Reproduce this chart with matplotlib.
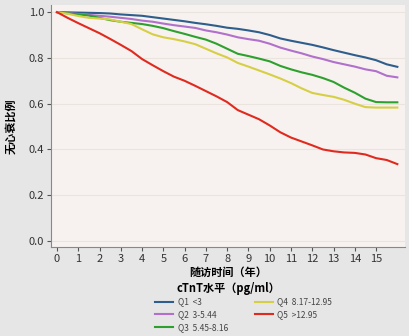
import matplotlib
matplotlib.use("Agg")
import matplotlib.pyplot as plt

plt.rcParams['font.family'] = ['Noto Sans CJK SC', 'DejaVu Sans']

# follow-up time (years)
years = [0, 0.5, 1, 1.5, 2, 2.5, 3, 3.5, 4, 4.5, 5, 5.5, 6, 6.5, 7, 7.5, 8,
         8.5, 9, 9.5, 10, 10.5, 11, 11.5, 12, 12.5, 13, 13.5, 14, 14.5, 15, 15.5, 16]

q1 = [1.0, 0.999, 0.998, 0.997, 0.996, 0.994, 0.99, 0.987, 0.984, 0.978, 0.972,
      0.966, 0.96, 0.953, 0.947, 0.94, 0.932, 0.927, 0.92, 0.912, 0.9, 0.885,
      0.875, 0.866, 0.857, 0.846, 0.834, 0.823, 0.812, 0.802, 0.79, 0.772, 0.761]
q2 = [1.0, 0.996, 0.992, 0.988, 0.984, 0.98, 0.975, 0.97, 0.963, 0.958, 0.95,
      0.943, 0.937, 0.931, 0.92, 0.912, 0.902, 0.89, 0.882, 0.875, 0.862, 0.845,
      0.832, 0.82, 0.806, 0.795, 0.782, 0.772, 0.762, 0.75, 0.742, 0.722, 0.715]
q3 = [1.0, 0.995, 0.99, 0.985, 0.975, 0.965, 0.958, 0.953, 0.948, 0.94, 0.93,
      0.917, 0.905, 0.892, 0.88, 0.862, 0.84, 0.818, 0.808, 0.797, 0.785, 0.765,
      0.75, 0.737, 0.726, 0.712, 0.695, 0.67, 0.648, 0.622, 0.607, 0.606, 0.606]
q4 = [1.0, 0.993, 0.983, 0.975, 0.972, 0.968, 0.958, 0.948, 0.925, 0.903, 0.89,
      0.882, 0.872, 0.86, 0.84, 0.82, 0.802, 0.778, 0.762, 0.745, 0.728, 0.71,
      0.69, 0.667, 0.647, 0.638, 0.63, 0.617, 0.6, 0.585, 0.583, 0.583, 0.583]
q5 = [1.0, 0.975, 0.952, 0.93, 0.908, 0.883, 0.857, 0.83, 0.795, 0.768, 0.742,
      0.718, 0.7, 0.678, 0.655, 0.632, 0.607, 0.572, 0.552, 0.532, 0.505, 0.475,
      0.452, 0.435, 0.418, 0.4, 0.392, 0.387, 0.385, 0.378, 0.362, 0.354, 0.336]

series = [q1, q2, q3, q4, q5]
labels = ['Q1  <3', 'Q2  3-5.44', 'Q3  5.45-8.16', 'Q4  8.17-12.95', 'Q5  >12.95']
colors = ['#2e5e8c', '#b070cc', '#2ea02e', '#d6cf45', '#e02a1f']
xticks = list(range(16))
yticks = [0.0, 0.2, 0.4, 0.6, 0.8, 1.0]

fig = plt.figure(figsize=(4.10, 3.36), dpi=100, facecolor='#e6e6e6')
ax = fig.add_axes([0.1244, 0.265, 0.8634, 0.72])
ax.set_facecolor('#f7f2ef')

for vals, lab, col in zip(series, labels, colors):
    ax.plot(years, vals, color=col, lw=1.5, label=lab)

ax.set_xlim(-0.28, 16.36)
ax.set_ylim(-0.026, 1.031)
ax.set_xticks(xticks)
ax.set_yticks(yticks)
ax.set_yticklabels([f'{v:.1f}' for v in yticks])
ax.tick_params(axis='both', labelsize=8, colors='#555555', length=3, width=0.8,
               labelcolor='#333333', pad=2)
for ax_y in yticks:
    ax.axhline(ax_y, color='#ebe3de', lw=0.8, zorder=0)
for s in ['top', 'right']:
    ax.spines[s].set_visible(False)
for s in ['left', 'bottom']:
    ax.spines[s].set_color('#888888')

ax.set_ylabel('无心衰比例', fontsize=8, fontweight='bold', labelpad=8)
fig.text(0.556, 0.188, '随访时间（年）', ha='center', va='center', fontsize=8,
         fontweight='bold')
fig.text(0.556, 0.142, 'cTnT水平（pg/ml）', ha='center', va='center', fontsize=8,
         fontweight='bold')

fig.legend(loc='upper left', bbox_to_anchor=(0.36, 0.137), ncol=2, frameon=False,
           fontsize=6, handlelength=2.2, columnspacing=3.2, labelspacing=0.45,
           handletextpad=0.5, labelcolor='#444444')

fig.savefig('out.png', dpi=100, facecolor=fig.get_facecolor())
